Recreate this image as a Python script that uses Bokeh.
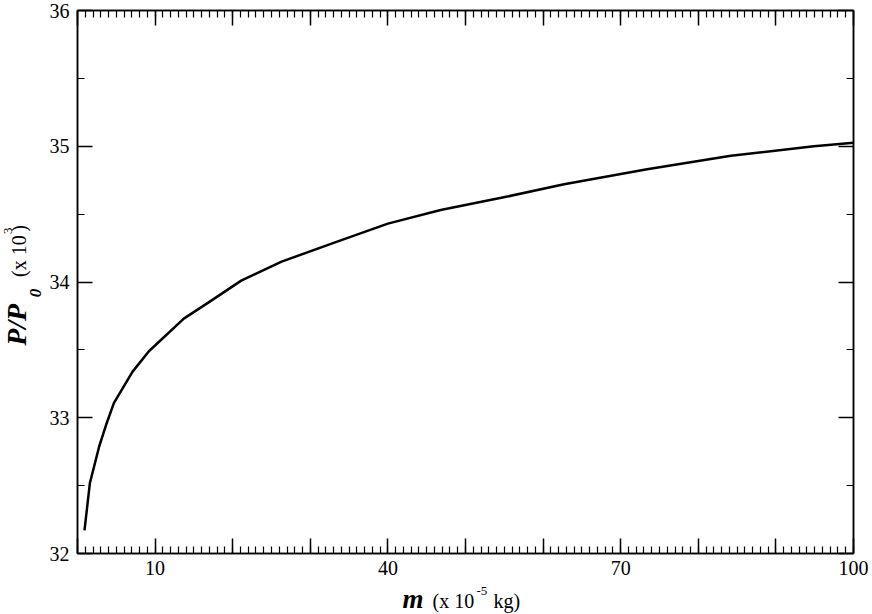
import math
from bokeh.plotting import figure
from bokeh.models import Range1d, LinearAxis, FixedTicker, Label
from bokeh.layouts import row, column
from bokeh.embed import file_html
from bokeh.resources import INLINE

# data
mass = [0.9, 1.6, 2.8, 3.7, 4.7, 7.1, 9.2, 13.7, 16.9, 21.1, 26.3, 33.1,
        40.0, 46.8, 54.6, 62.7, 73.4, 84.2, 94.9, 100.0]
power = [32.17, 32.52, 32.79, 32.95, 33.11, 33.34, 33.49, 33.73, 33.85, 34.01,
         34.15, 34.29, 34.43, 34.53, 34.62, 34.72, 34.83, 34.93, 35.00, 35.025]

x_major = [0, 10, 20, 30, 40, 50, 60, 70, 80, 90, 100]
x_minor = [v for v in range(0, 101)]
x_labels = {0: "", 10: "10", 20: "", 30: "", 40: "40", 50: "", 60: "",
            70: "70", 80: "", 90: "", 100: "100"}
y_major = [32, 33, 34, 35, 36]
y_minor = [32.5, 33.5, 34.5, 35.5]

SERIF = "Liberation Serif"

YLAB_W = 46
MAIN_H = 583
XLAB_H = 614 - MAIN_H

p = figure(width=872 - YLAB_W, height=MAIN_H, output_backend="svg", toolbar_location=None,
           x_range=Range1d(0, 100), y_range=Range1d(32, 36),
           x_axis_type=None, y_axis_type=None, title=None,
           min_border_left=76 - YLAB_W, min_border_right=19,
           min_border_top=10, min_border_bottom=MAIN_H - 553)
p.xgrid.visible = False
p.ygrid.visible = False
p.outline_line_color = "black"
p.outline_line_width = 1.5
p.background_fill_color = "white"
p.border_fill_color = "white"

def style(ax, ticks, minor, show_labels):
    ax.ticker = FixedTicker(ticks=ticks, minor_ticks=minor)
    ax.axis_line_color = "black"
    ax.axis_line_width = 1.5
    ax.major_tick_line_width = 1.5
    ax.minor_tick_line_width = 1.2
    ax.major_tick_in = 15
    ax.major_tick_out = 0
    ax.minor_tick_in = 7
    ax.minor_tick_out = 0
    if show_labels:
        ax.major_label_text_font = SERIF
        ax.major_label_text_font_size = "20px"
        ax.major_label_text_color = "black"
    else:
        ax.major_label_overrides = {t: "" for t in ticks}
        ax.major_label_text_font_size = "1px"
        ax.major_label_standoff = 0

xb = LinearAxis()
style(xb, x_major, x_minor, True)
xb.major_label_overrides = x_labels
xb.major_label_standoff = 7
p.add_layout(xb, "below")

xt = LinearAxis()
style(xt, x_major, x_minor, False)
p.add_layout(xt, "above")

yl = LinearAxis()
style(yl, y_major, y_minor, True)
yl.major_label_standoff = 8
p.add_layout(yl, "left")

yr = LinearAxis()
style(yr, y_major, y_minor, False)
p.add_layout(yr, "right")

p.line(mass, power, line_color="black", line_width=2.5)


def blank(w, h):
    f = figure(width=w, height=h, output_backend="svg", toolbar_location=None,
               x_range=Range1d(0, w), y_range=Range1d(0, h), title=None,
               x_axis_type=None, y_axis_type=None, min_border=0,
               min_border_left=0, min_border_right=0,
               min_border_top=0, min_border_bottom=0)
    f.xgrid.visible = False
    f.ygrid.visible = False
    f.outline_line_color = None
    f.background_fill_color = "white"
    f.border_fill_color = "white"
    return f


def lab(f, x, y, text, size, style_="normal", angle=0.0):
    f.add_layout(Label(x=x, y=y, text=text, angle=angle, text_font=SERIF,
                       text_font_size=size, text_font_style=style_,
                       text_color="black", text_align="left",
                       text_baseline="middle"))


# y axis title (rotated, reads bottom to top)
ylab = blank(YLAB_W, MAIN_H)
ang = math.pi / 2
lab(ylab, 15.6, MAIN_H - 360, "P/P", "28px", "bold italic", ang)
lab(ylab, 35.0, MAIN_H - 308, "0", "17px", "bold italic", ang)
lab(ylab, 18.3, MAIN_H - 286, "(x 10", "20px", "normal", ang)
lab(ylab, 7.6, MAIN_H - 240, "3", "13px", "normal", ang)
lab(ylab, 18.3, MAIN_H - 237.5, ")", "20px", "normal", ang)

# x axis title
xlab = blank(872, XLAB_H)
top = 614
lab(xlab, 402, top - 598.9, "m", "27px", "bold italic")
lab(xlab, 432, top - 600.3, "(x 10", "20px")
lab(xlab, 476, top - 590.6, "-5", "13px")
lab(xlab, 493, top - 600.3, "kg)", "20px")

layout = column(row(ylab, p, spacing=0), xlab, spacing=0)

open("out.html", "w").write(file_html(layout, INLINE))
